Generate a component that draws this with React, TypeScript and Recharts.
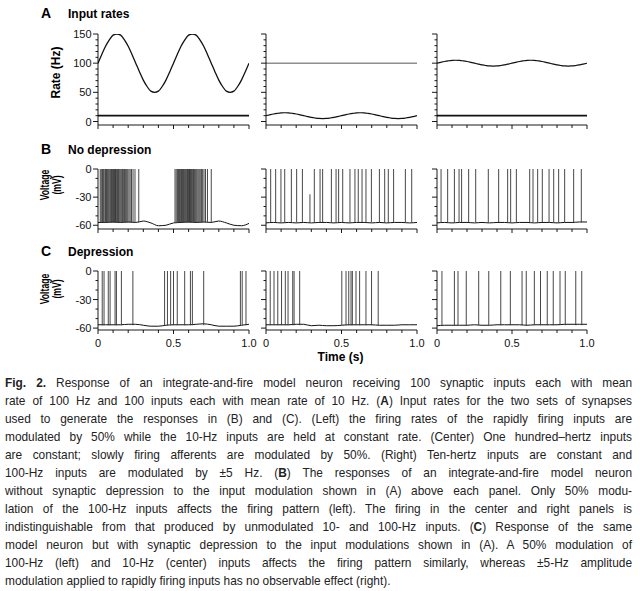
import React from 'react';
import { LineChart, Line, XAxis, YAxis, ReferenceLine } from 'recharts';

// time grid for the input-rate curves (s)
const rateTimes = [
  0, 0.025, 0.05, 0.075, 0.1, 0.125, 0.15, 0.175, 0.2, 0.225, 0.25, 0.275, 0.3, 0.325, 0.35, 0.375, 0.4, 0.425, 0.45, 0.475,
  0.5, 0.525, 0.55, 0.575, 0.6, 0.625, 0.65, 0.675, 0.7, 0.725, 0.75, 0.775, 0.8, 0.825, 0.85, 0.875, 0.9, 0.925, 0.95, 0.975, 1,
];
const fastLeft = [
  100, 115, 129, 140, 148, 150, 148, 140, 129, 115, 100, 85, 71, 60, 52, 50, 52, 60, 71, 85,
  100, 115, 129, 140, 148, 150, 148, 140, 129, 115, 100, 85, 71, 60, 52, 50, 52, 60, 71, 85, 100,
];
const slowCenter = [
  10, 11.5, 12.9, 14, 14.8, 15, 14.8, 14, 12.9, 11.5, 10, 8.5, 7.1, 6, 5.2, 5, 5.2, 6, 7.1, 8.5,
  10, 11.5, 12.9, 14, 14.8, 15, 14.8, 14, 12.9, 11.5, 10, 8.5, 7.1, 6, 5.2, 5, 5.2, 6, 7.1, 8.5, 10,
];
const fastRight = [
  100, 101.5, 102.9, 104, 104.8, 105, 104.8, 104, 102.9, 101.5, 100, 98.5, 97.1, 96, 95.2, 95, 95.2, 96, 97.1, 98.5,
  100, 101.5, 102.9, 104, 104.8, 105, 104.8, 104, 102.9, 101.5, 100, 98.5, 97.1, 96, 95.2, 95, 95.2, 96, 97.1, 98.5, 100,
];
const constTimes = [0, 1];
const fastConst = [100, 100];
const slowConst = [10, 10];

// membrane potential between spikes (mV), sampled every 50 ms
const voltTimes = [0, 0.05, 0.1, 0.15, 0.2, 0.25, 0.3, 0.35, 0.4, 0.45, 0.5, 0.55, 0.6, 0.65, 0.7, 0.75, 0.8, 0.85, 0.9, 0.95, 1];
const baseB1 = [-57, -57, -56.5, -57, -56.5, -57, -55.5, -57.5, -60.5, -60, -57.5, -57, -56.5, -57, -56.5, -57, -55.5, -57.5, -60, -60.5, -58];
const baseB2 = [-57.5, -57, -57.5, -57, -57.5, -57, -57.5, -57, -57, -57.5, -57, -57.5, -57, -57, -57.5, -57, -57.5, -57, -57, -57.5, -57];
const baseB3 = [-57.5, -57, -57.5, -57, -57, -57.5, -57, -57.5, -57, -57, -57.5, -57, -57, -57.5, -57, -57, -57.5, -57, -57, -56.5, -56.5];
const baseC1 = [-56.5, -56.5, -56.5, -56.5, -56, -56, -57, -58, -58, -57, -56.5, -56.5, -56.5, -56, -55.5, -56.5, -58, -58, -58, -57, -56];
const baseC2 = [-56.5, -56.5, -56.5, -56.5, -56, -56, -57.5, -57, -57.5, -57.5, -57, -56.5, -56.5, -56.5, -56.5, -57, -57, -57, -56.5, -56.5, -56.5];
const baseC3 = [-57.5, -57, -57, -57, -57, -56.5, -57, -57, -56.5, -56.5, -56.5, -56.5, -57, -56.5, -56.5, -56.5, -56.5, -56, -56, -56, -56];

// spike times (s)
const spikesB1 = [
  0.015, 0.022, 0.03, 0.037, 0.045, 0.05, 0.056, 0.062, 0.068, 0.074, 0.08, 0.085, 0.09, 0.095, 0.1, 0.104, 0.108, 0.112, 0.116,
  0.12, 0.125, 0.13, 0.135, 0.14, 0.146, 0.152, 0.158, 0.163, 0.17, 0.176, 0.183, 0.19, 0.197, 0.205, 0.213, 0.222, 0.232, 0.245, 0.27,
  0.51, 0.518, 0.526, 0.533, 0.54, 0.547, 0.553, 0.56, 0.566, 0.572, 0.578, 0.583, 0.588, 0.593, 0.598, 0.602, 0.606, 0.61, 0.614,
  0.618, 0.623, 0.628, 0.633, 0.638, 0.644, 0.65, 0.656, 0.663, 0.67, 0.677, 0.685, 0.693, 0.702, 0.712, 0.725, 0.75,
];
const spikesB2 = [
  0.031, 0.064, 0.099, 0.124, 0.168, 0.203, 0.241, 0.32, 0.358, 0.375, 0.433, 0.464, 0.481, 0.508, 0.556, 0.589, 0.611, 0.636, 0.662, 0.698,
  0.751, 0.786, 0.81, 0.845, 0.923, 0.965,
];
const shortSpikeB2 = [0.291];
const spikesB3 = [
  0.027, 0.071, 0.116, 0.147, 0.164, 0.211, 0.258, 0.342, 0.411, 0.471, 0.491, 0.529, 0.618, 0.64, 0.671, 0.702, 0.747, 0.778, 0.811, 0.851, 0.911, 0.962,
];
const spikesC1 = [0.028, 0.04, 0.068, 0.08, 0.113, 0.122, 0.155, 0.231, 0.441, 0.46, 0.481, 0.5, 0.525, 0.574, 0.612, 0.625, 0.7, 0.943, 0.955, 0.98];
const spikesC2 = [0.028, 0.053, 0.078, 0.103, 0.128, 0.146, 0.177, 0.186, 0.223, 0.502, 0.53, 0.548, 0.563, 0.572, 0.596, 0.62, 0.662, 0.699, 0.743];
const spikesC3 = [0.033, 0.116, 0.14, 0.195, 0.278, 0.345, 0.425, 0.489, 0.567, 0.595, 0.649, 0.69, 0.735, 0.775, 0.82, 0.855, 0.925, 0.965];
const spikeFoot = -57;
const spikePeak = 0;
const shortPeak = -27;

// axis ticks
const timeTicks = [0, 0.1, 0.2, 0.3, 0.4, 0.5, 0.6, 0.7, 0.8, 0.9, 1];
const timeMajor = [0, 0.5, 1];
const timeLabels = ['0', '0.5', '1.0'];
const rateTicks = [0, 10, 20, 30, 40, 50, 60, 70, 80, 90, 100, 110, 120, 130, 140, 150];
const rateMajor = [0, 50, 100, 150];
const voltTicks = [-60, -50, -40, -30, -20, -10, 0];
const voltMajor = [-60, -30, 0];

const FONT = '"Liberation Sans", Arial, Helvetica, sans-serif';
const COLS = [
  { left: 98, width: 151 },
  { left: 266, width: 151 },
  { left: 437, width: 150 },
];
const ROWS = [
  { top: 34, height: 91, domain: [-6, 150], ticks: rateTicks, major: rateMajor },
  { top: 169, height: 60, domain: [-64, 0], ticks: voltTicks, major: voltMajor },
  { top: 271, height: 59, domain: [-62, 0], ticks: voltTicks, major: voltMajor },
];
const ML = 40;
const MT = 12;
const MR = 14;
const XH = 24;

const table = (ts: number[], vs: number[]) => ts.map((t, i) => ({ t, v: vs[i] }));

const YTick = (props: any) => {
  const { x, y, payload, major, showLabel } = props;
  const isMajor = major.includes(payload.value);
  return (
    <g>
      <line x1={x} x2={x - (isMajor ? 5 : 2.5)} y1={y} y2={y} stroke="#000" strokeWidth={0.9} />
      {showLabel && isMajor && (
        <text x={x - 6.5} y={y} dy={4} textAnchor="end" fontSize={11} fontFamily={FONT} fill="#111">
          {payload.value}
        </text>
      )}
    </g>
  );
};

const XTick = (props: any) => {
  const { x, y, payload, showLabel } = props;
  const idx = timeMajor.findIndex((m) => Math.abs(m - payload.value) < 1e-6);
  const isMajor = idx >= 0;
  return (
    <g>
      <line x1={x} x2={x} y1={y} y2={y + (isMajor ? 4 : 3)} stroke="#000" strokeWidth={0.9} />
      {showLabel && isMajor && (
        <text x={x} y={y + 17} textAnchor="middle" fontSize={11} fontFamily={FONT} fill="#111">
          {timeLabels[idx]}
        </text>
      )}
    </g>
  );
};

function Panel({ row, col, children }: { row: number; col: number; children: React.ReactNode }) {
  const r = ROWS[row];
  const c = COLS[col];
  return (
    <div style={{ position: 'absolute', left: c.left - ML, top: r.top - MT }}>
      <LineChart width={ML + c.width + MR} height={MT + r.height + XH} margin={{ top: MT, right: MR, left: 0, bottom: 0 }}>
        <XAxis
          dataKey="t"
          type="number"
          domain={[0, 1]}
          ticks={timeTicks}
          interval={0}
          allowDataOverflow
          height={XH}
          tickSize={0}
          tickMargin={0}
          tickLine={false}
          axisLine={{ stroke: '#000', strokeWidth: 0.9 }}
          tick={(p: any) => <XTick {...p} showLabel={row === 2} />}
        />
        <YAxis
          type="number"
          domain={r.domain}
          ticks={r.ticks}
          interval={0}
          allowDataOverflow
          width={ML}
          tickSize={0}
          tickMargin={0}
          tickLine={false}
          axisLine={{ stroke: '#000', strokeWidth: 0.9 }}
          tick={(p: any) => <YTick {...p} major={r.major} showLabel={col === 0} />}
        />
        {children}
      </LineChart>
    </div>
  );
}

function rateLine(key: string, ts: number[], vs: number[], stroke: string, w: number) {
  return (
    <Line
      key={key}
      data={table(ts, vs)}
      dataKey="v"
      type="monotone"
      stroke={stroke}
      strokeWidth={w}
      dot={false}
      activeDot={false}
      isAnimationActive={false}
    />
  );
}

function voltPanel(base: number[], spikes: number[], extraShort: number[] = []) {
  return [
    <Line
      key="base"
      data={table(voltTimes, base)}
      dataKey="v"
      type="monotone"
      stroke="#111"
      strokeWidth={1}
      dot={false}
      activeDot={false}
      isAnimationActive={false}
    />,
    ...spikes.map((s, i) => (
      <ReferenceLine
        key={`s${i}`}
        segment={[{ x: s, y: spikeFoot }, { x: s, y: spikePeak }]}
        stroke="#333"
        strokeWidth={0.9}
      />
    )),
    ...extraShort.map((s, i) => (
      <ReferenceLine
        key={`q${i}`}
        segment={[{ x: s, y: spikeFoot }, { x: s, y: shortPeak }]}
        stroke="#333"
        strokeWidth={0.9}
      />
    )),
  ];
}

const bold = { fontWeight: 'bold' as const };

const captionLines: React.ReactNode[] = [
  <><b>Fig. 2.</b> Response of an integrate-and-fire model neuron receiving 100 synaptic inputs each with mean</>,
  <>rate of 100 Hz and 100 inputs each with mean rate of 10 Hz. (<b>A</b>) Input rates for the two sets of synapses</>,
  <>used to generate the responses in (B) and (C). (Left) the firing rates of the rapidly firing inputs are</>,
  <>modulated by 50% while the 10-Hz inputs are held at constant rate. (Center) One hundred–hertz inputs</>,
  <>are constant; slowly firing afferents are modulated by 50%. (Right) Ten-hertz inputs are constant and</>,
  <>100-Hz inputs are modulated by ±5 Hz. (<b>B</b>) The responses of an integrate-and-fire model neuron</>,
  <>without synaptic depression to the input modulation shown in (A) above each panel. Only 50% modu-</>,
  <>lation of the 100-Hz inputs affects the firing pattern (left). The firing in the center and right panels is</>,
  <>indistinguishable from that produced by unmodulated 10- and 100-Hz inputs. (<b>C</b>) Response of the same</>,
  <>model neuron but with synaptic depression to the input modulations shown in (A). A 50% modulation of</>,
  <>100-Hz (left) and 10-Hz (center) inputs affects the firing pattern similarly, whereas ±5-Hz amplitude</>,
  <>modulation applied to rapidly firing inputs has no observable effect (right).</>,
];

const CAP_SCALE = 0.88;
const CAP_WIDTH = 627;

export default function App() {
  return (
    <div style={{ position: 'absolute', left: 0, top: 0, width: 640, height: 591, background: '#fff', overflow: 'hidden', fontFamily: FONT }}>
      <svg width={640} height={591} style={{ position: 'absolute', left: 0, top: 0 }}>
        <g fontFamily={FONT} fill="#000">
          <text x={41} y={18} fontSize={14} {...bold}>A</text>
          <text x={68} y={18} fontSize={12} {...bold}>Input rates</text>
          <text x={41} y={154} fontSize={14} {...bold}>B</text>
          <text x={68} y={154} fontSize={12} {...bold}>No depression</text>
          <text x={41} y={256} fontSize={14} {...bold}>C</text>
          <text x={68} y={256} fontSize={12} {...bold}>Depression</text>
          <text transform="translate(55.5,72.5) rotate(-90)" textAnchor="middle" dominantBaseline="central" fontSize={12} {...bold}>Rate (Hz)</text>
          <text transform="translate(45,185) rotate(-90) scale(0.72,1)" textAnchor="middle" dominantBaseline="central" fontSize={12} {...bold}>Voltage</text>
          <text transform="translate(57,185) rotate(-90) scale(0.72,1)" textAnchor="middle" dominantBaseline="central" fontSize={12} {...bold}>(mV)</text>
          <text transform="translate(45,289) rotate(-90) scale(0.72,1)" textAnchor="middle" dominantBaseline="central" fontSize={12} {...bold}>Voltage</text>
          <text transform="translate(57,289) rotate(-90) scale(0.72,1)" textAnchor="middle" dominantBaseline="central" fontSize={12} {...bold}>(mV)</text>
          <text x={340.5} y={361} textAnchor="middle" fontSize={12} {...bold}>Time (s)</text>
        </g>
      </svg>

      <Panel row={0} col={0}>
        {rateLine('hi', rateTimes, fastLeft, '#111', 1.3)}
        {rateLine('lo', constTimes, slowConst, '#111', 1.8)}
      </Panel>
      <Panel row={0} col={1}>
        {rateLine('hi', constTimes, fastConst, '#555', 1)}
        {rateLine('lo', rateTimes, slowCenter, '#111', 1.2)}
      </Panel>
      <Panel row={0} col={2}>
        {rateLine('hi', rateTimes, fastRight, '#111', 1.2)}
        {rateLine('lo', constTimes, slowConst, '#111', 1.8)}
      </Panel>

      <Panel row={1} col={0}>{voltPanel(baseB1, spikesB1)}</Panel>
      <Panel row={1} col={1}>{voltPanel(baseB2, spikesB2, shortSpikeB2)}</Panel>
      <Panel row={1} col={2}>{voltPanel(baseB3, spikesB3)}</Panel>

      <Panel row={2} col={0}>{voltPanel(baseC1, spikesC1)}</Panel>
      <Panel row={2} col={1}>{voltPanel(baseC2, spikesC2)}</Panel>
      <Panel row={2} col={2}>{voltPanel(baseC3, spikesC3)}</Panel>

      <div
        style={{
          position: 'absolute',
          left: 5,
          top: 374,
          width: CAP_WIDTH / CAP_SCALE,
          fontSize: 13.5,
          lineHeight: '18px',
          color: '#222',
          transform: `scaleX(${CAP_SCALE})`,
          transformOrigin: '0 0',
        }}
      >
        {captionLines.map((ln, i) => (
          <div
            key={i}
            style={{ textAlign: 'justify', textAlignLast: i === captionLines.length - 1 ? 'left' : 'justify' }}
          >
            {ln}
          </div>
        ))}
      </div>
    </div>
  );
}
